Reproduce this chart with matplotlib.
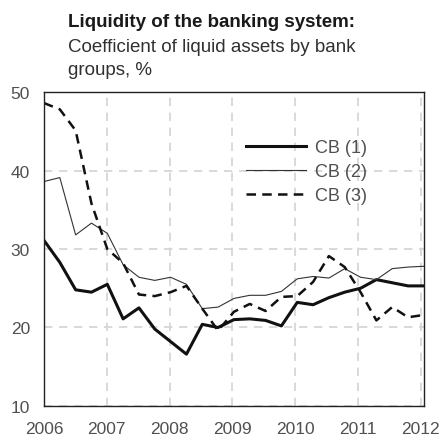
import numpy as np
import matplotlib
matplotlib.use('Agg')
import matplotlib.pyplot as plt

# quarterly observations, 2006Q1 .. 2012Q1
years = [2006, 2007, 2008, 2009, 2010, 2011, 2012]
labels = ['CB (1)', 'CB (2)', 'CB (3)']

cb1 = [31.1, 28.3, 24.8, 24.5, 25.5, 21.1, 22.5, 19.8, 18.2, 16.6, 20.4, 20.0,
       21.0, 21.1, 20.9, 20.2, 23.2, 22.9, 23.8, 24.5, 25.0, 26.1, 25.7, 25.3, 25.3]
cb2 = [38.6, 39.1, 31.8, 33.3, 32.0, 28.0, 26.4, 26.0, 26.4, 25.5, 22.4, 22.6,
       23.7, 24.1, 24.1, 24.6, 26.2, 26.5, 26.3, 27.5, 26.4, 26.1, 27.5, 27.7, 27.8]
cb3 = [48.6, 47.8, 45.1, 35.8, 30.0, 28.2, 24.2, 24.0, 24.5, 25.3, 22.4, 19.6,
       22.0, 23.0, 22.1, 23.9, 24.0, 25.8, 29.1, 27.7, 24.5, 20.9, 22.6, 21.3, 21.6]

plt.rcParams['font.family'] = ['Liberation Sans', 'DejaVu Sans']

fig = plt.figure(figsize=(4.42, 4.39), dpi=100)
ax = fig.add_axes([0.0995, 0.073, 0.8595, 0.715])

x_end = 2012.05
x = np.linspace(2006, x_end, len(cb1))

ax.plot(x, cb1, color='#111111', lw=2.2, label=labels[0])
ax.plot(x, cb2, color='#333333', lw=0.8, label=labels[1])
ax.plot(x, cb3, color='#111111', lw=1.8, ls=(0, (3.8, 2.5)), label=labels[2])

ax.set_xlim(2006, x_end)
ax.set_ylim(10, 50)
ax.set_xticks(years)
ax.set_yticks([10, 20, 30, 40, 50])
ax.grid(True, color='#d3d3d3', ls=(0, (5, 4)), lw=1.2)
ax.set_axisbelow(True)
ax.tick_params(length=0, labelsize=12.5, labelcolor='#505050')
ax.tick_params(axis='x', pad=11)
ax.tick_params(axis='y', pad=10)
for s in ax.spines.values():
    s.set_color('#222222')
    s.set_linewidth(1.0)

leg = ax.legend(loc='upper left', bbox_to_anchor=(0.532, 0.85), frameon=False,
                fontsize=13, handlelength=3.3, handletextpad=0.5,
                labelspacing=0.38, borderaxespad=0, borderpad=0)
for t in leg.get_texts():
    t.set_color('#505050')

fig.text(0.154, 0.9385, 'Liquidity of the banking system:', fontsize=13.5,
         fontweight='bold', color='#1a1a1a')
fig.text(0.154, 0.8815, 'Coefficient of liquid assets by bank', fontsize=13.5,
         color='#303030')
fig.text(0.154, 0.829, 'groups, %', fontsize=13.5, color='#303030')

fig.savefig('out.png', dpi=100)
